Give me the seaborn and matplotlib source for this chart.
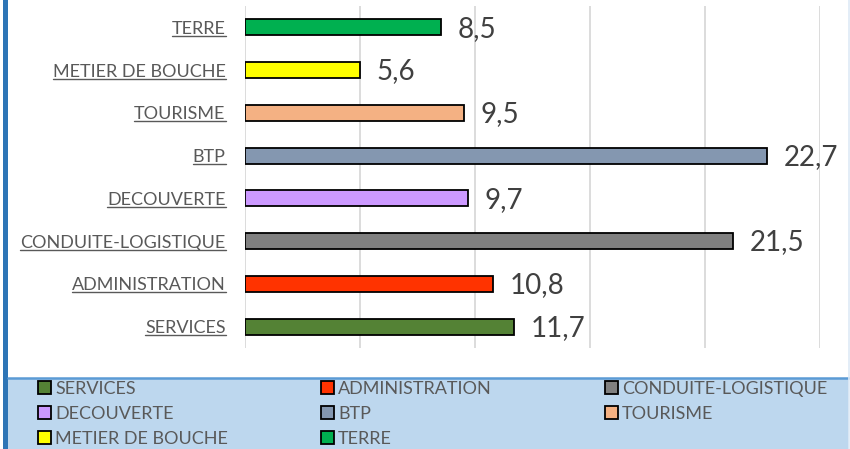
import matplotlib as mpl
mpl.use('Agg')
import matplotlib.pyplot as plt
from matplotlib.patches import Patch, Rectangle
from matplotlib.lines import Line2D
import seaborn as sns
import pandas as pd

categories = ['TERRE', 'METIER DE BOUCHE', 'TOURISME', 'BTP', 'DECOUVERTE',
              'CONDUITE-LOGISTIQUE', 'ADMINISTRATION', 'SERVICES']
# bar lengths as drawn in the picture (two of them differ from their printed labels)
values = [8.5, 5.0, 9.5, 22.7, 9.7, 21.2, 10.8, 11.7]
value_labels = ['8,5', '5,6', '9,5', '22,7', '9,7', '21,5', '10,8', '11,7']
colors = ['#00B050', '#FFFF00', '#F4B183', '#8497B0', '#CC99FF',
          '#808080', '#FF3300', '#548235']
legend_cols = [['SERVICES', 'DECOUVERTE', 'METIER DE BOUCHE'],
               ['ADMINISTRATION', 'BTP', 'TERRE'],
               ['CONDUITE-LOGISTIQUE', 'TOURISME']]

sns.set_theme(style='white')
plt.rcParams['font.family'] = ['Lato', 'DejaVu Sans']

df = pd.DataFrame({'cat': categories, 'val': values})
palette = dict(zip(categories, colors))

fig = plt.figure(figsize=(8.5, 4.49), dpi=100)
fig.patch.set_facecolor('white')
ax = fig.add_axes([245 / 850, 1 - 348 / 449, 575 / 850, 342 / 449])

sns.barplot(data=df, y='cat', x='val', hue='cat', palette=palette, order=categories,
            orient='h', width=0.38, edgecolor='black', linewidth=1.3,
            saturation=1, legend=False, ax=ax)

ax.set_xlim(0, 25)
ax.set_ylim(7.5, -0.5)
ax.set_xticks(range(0, 26, 5))
ax.set_xticklabels([])
ax.tick_params(axis='x', length=0)
ax.tick_params(axis='y', length=0, pad=14, labelsize=13, labelcolor='#595959')
ax.xaxis.grid(True, color='#D9D9D9', linewidth=1.3)
ax.set_axisbelow(True)
for s in ax.spines.values():
    s.set_visible(False)
ax.set_xlabel('')
ax.set_ylabel('')

for i, v in enumerate(values):
    ax.annotate(value_labels[i], (v, i), xytext=(12, -1),
                textcoords='offset points', va='center', ha='left',
                fontsize=20, color='#404040')

# blue frame pieces and legend band
fig.add_artist(Rectangle((3 / 850, 0), 5 / 850, 1, transform=fig.transFigure,
                         facecolor='#2E75B6', edgecolor='none'))
fig.add_artist(Rectangle((8 / 850, 0), 841 / 850, 71 / 449, transform=fig.transFigure,
                         facecolor='#BDD7EE', edgecolor='none'))
fig.add_artist(Line2D([8 / 850, 849 / 850], [71 / 449, 71 / 449], transform=fig.transFigure,
                      color='#5B9BD5', linewidth=1.8))
fig.add_artist(Line2D([849 / 850, 849 / 850], [0, 1], transform=fig.transFigure,
                      color='#DEEAF6', linewidth=1.2))

# legend: one single-column legend per column, placed where the reference has them
col_x = [38, 321, 605]
for x, names in zip(col_x, legend_cols):
    handles = [Patch(facecolor=palette[n], edgecolor='black', linewidth=1.3, label=n)
               for n in names]
    leg = fig.legend(handles=handles, loc='upper left',
                     bbox_to_anchor=(x / 850, 1 - 381 / 449),
                     ncol=1, frameon=False, fontsize=13, handlelength=0.7, handleheight=0.7,
                     handletextpad=0.25, labelspacing=0.5,
                     borderpad=0, borderaxespad=0)
    for t in leg.get_texts():
        t.set_color('#595959')

# underline the category labels
fig.canvas.draw()
r = fig.canvas.get_renderer()
inv = fig.transFigure.inverted()
for lab in ax.get_yticklabels():
    bb = lab.get_window_extent(r)
    (x0, y0), (x1, y1) = inv.transform([(bb.x0, bb.y0 + 1), (bb.x1, bb.y0 + 1)])
    fig.add_artist(Line2D([x0, x1], [y0, y1], transform=fig.transFigure,
                          color='#595959', linewidth=1))

fig.savefig('out.png', dpi=100)
